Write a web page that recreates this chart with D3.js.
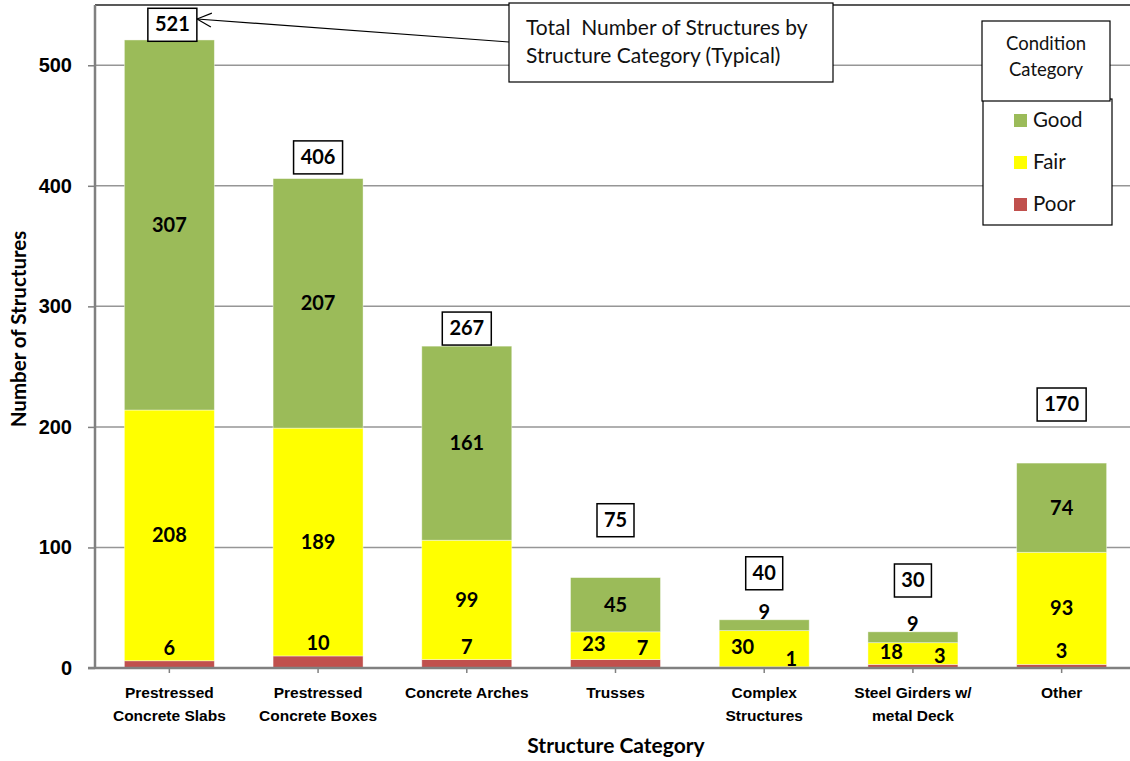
<!DOCTYPE html>
<html>
<head>
<meta charset="utf-8">
<script src="https://cdn.jsdelivr.net/npm/d3@7"></script>
<style>
  body { margin: 0; background: #fff; }
  svg { font-family: Lato, "Open Sans", sans-serif; }
</style>
</head>
<body>
<script>
// structure categories (two-line labels)
var categories = [
  ["Prestressed", "Concrete Slabs"],
  ["Prestressed", "Concrete Boxes"],
  ["Concrete Arches"],
  ["Trusses"],
  ["Complex", "Structures"],
  ["Steel Girders w/", "metal Deck"],
  ["Other"]
];

// counts per condition
var poor = [6, 10, 7, 7, 1, 3, 3];
var fair = [208, 189, 99, 23, 30, 18, 93];
var good = [307, 207, 161, 45, 9, 9, 74];
var totals = [521, 406, 267, 75, 40, 30, 170];

// where each total box sits, in axis units
var totalLabelAt = [534, 424, 282, 123, 79, 73, 219];

var yTicks = [0, 100, 200, 300, 400, 500];

var colors = { good: "#9BBB59", fair: "#FFFF00", poor: "#C0504D" };

var width = 1130, height = 761;
var plotLeft = 95, plotRight = 1136, plotTop = 5, plotBottom = 668;

var svg = d3.select("body").append("svg")
  .attr("width", width)
  .attr("height", height);

var x = d3.scaleBand()
  .domain(d3.range(categories.length))
  .range([plotLeft, plotRight])
  .paddingInner(0.395)
  .paddingOuter(0.1975);

var y = d3.scaleLinear().domain([0, 550]).range([plotBottom, plotTop]);

// gridlines
svg.append("g")
  .selectAll("line")
  .data(yTicks.slice(1))
  .enter().append("line")
  .attr("x1", plotLeft).attr("x2", width)
  .attr("y1", function(d) { return y(d); })
  .attr("y2", function(d) { return y(d); })
  .attr("stroke", "#969696")
  .attr("stroke-width", 1.5);

// top border of plot area
svg.append("line")
  .attr("x1", plotLeft).attr("x2", width)
  .attr("y1", plotTop).attr("y2", plotTop)
  .attr("stroke", "#222").attr("stroke-width", 1.5);

// stacked bars
var stacks = categories.map(function(c, i) {
  return [
    { key: "poor", y0: 0, y1: poor[i], v: poor[i] },
    { key: "fair", y0: poor[i], y1: poor[i] + fair[i], v: fair[i] },
    { key: "good", y0: poor[i] + fair[i], y1: poor[i] + fair[i] + good[i], v: good[i] }
  ];
});

var barG = svg.append("g");
stacks.forEach(function(segs, i) {
  barG.selectAll(null)
    .data(segs)
    .enter().append("rect")
    .attr("x", x(i))
    .attr("width", x.bandwidth())
    .attr("y", function(d) { return y(d.y1); })
    .attr("height", function(d) { return y(d.y0) - y(d.y1); })
    .attr("fill", function(d) { return colors[d.key]; })
    .attr("stroke", "rgba(255,255,255,0.5)")
    .attr("stroke-width", 0.8);
});

// axes
var yAxis = svg.append("g")
  .attr("transform", "translate(" + plotLeft + ",0)")
  .call(d3.axisLeft(y).tickValues(yTicks).tickSize(7).tickPadding(16));
yAxis.select(".domain").attr("stroke", "#808080").attr("stroke-width", 2.5)
  .attr("d", "M0," + plotTop + "V" + plotBottom);
yAxis.selectAll(".tick line").attr("stroke", "#808080").attr("stroke-width", 1.5);
yAxis.selectAll(".tick text")
  .attr("fill", "#000")
  .style("font-size", "20px")
  .style("font-weight", "bold");

var xAxis = svg.append("g")
  .attr("transform", "translate(0," + plotBottom + ")")
  .call(d3.axisBottom(x).tickSize(5).tickFormat(""));
xAxis.select(".domain").attr("stroke", "#808080").attr("stroke-width", 2.5)
  .attr("d", "M" + (plotLeft - 7) + ",0H" + width);
xAxis.selectAll(".tick line").attr("stroke", "#808080").attr("stroke-width", 1.5);

// category labels
xAxis.selectAll(".tick").each(function(i) {
  var t = d3.select(this).append("text")
    .attr("fill", "#000")
    .attr("text-anchor", "middle")
    .style("font-size", "15.5px")
    .style("font-weight", "bold");
  categories[i].forEach(function(line, k) {
    t.append("tspan").attr("x", 0).attr("y", 30 + k * 23).text(line);
  });
});

// axis titles
svg.append("text")
  .attr("x", 616).attr("y", 753)
  .attr("text-anchor", "middle")
  .style("font-size", "21px").style("font-weight", "bold")
  .text("Structure Category");

svg.append("text")
  .attr("transform", "translate(26," + 329 + ") rotate(-90)")
  .attr("text-anchor", "middle")
  .style("font-size", "20.5px").style("font-weight", "bold")
  .text("Number of Structures");

// value labels in segments
var labelG = svg.append("g")
  .style("font-size", "20px").style("font-weight", "bold")
  .attr("text-anchor", "middle");

function segLabel(cx, val, v, dy) {
  labelG.append("text")
    .attr("x", cx).attr("y", y(val) + (dy || 0))
    .attr("dy", "0.35em")
    .text(v);
}

stacks.forEach(function(segs, i) {
  var cx = x(i) + x.bandwidth() / 2;
  var bw = x.bandwidth();
  var p = segs[0], f = segs[1], g = segs[2];
  if (f.v > 60) {
    // tall bars: everything centred
    segLabel(cx, p.y1, p.v, -13);
    segLabel(cx, (f.y0 + f.y1) / 2, f.v);
    segLabel(cx, (g.y0 + g.y1) / 2, g.v);
  } else {
    // short bars: fair on the left, poor on the right
    segLabel(cx - bw * 0.24, (f.y0 + f.y1) / 2, f.v, -2);
    segLabel(cx + bw * 0.3, p.y1, p.v, i === 3 ? -12 : -8);
    if (g.v > 20) segLabel(cx, (g.y0 + g.y1) / 2, g.v);
    else segLabel(cx, g.y1, g.v, -8);
  }
});

// total boxes
var totalG = svg.append("g");
totals.forEach(function(t, i) {
  var cx = x(i) + x.bandwidth() / 2 + (i === 0 ? 3 : 0);
  var cy = y(totalLabelAt[i]);
  var w = String(t).length * 12 + 13;
  totalG.append("rect")
    .attr("x", cx - w / 2).attr("y", cy - 16)
    .attr("width", w).attr("height", 33)
    .attr("fill", "#fff").attr("stroke", "#000").attr("stroke-width", 1.5);
  totalG.append("text")
    .attr("x", cx).attr("y", cy).attr("dy", "0.36em")
    .attr("text-anchor", "middle")
    .style("font-size", "20px").style("font-weight", "bold")
    .text(t);
});

// callout with arrow to first total box
var ax0 = 509, ay0 = 42, ax1 = 197, ay1 = 19;
svg.append("line")
  .attr("x1", ax0).attr("y1", ay0).attr("x2", ax1).attr("y2", ay1)
  .attr("stroke", "#000").attr("stroke-width", 1.2);
var ang = Math.atan2(ay0 - ay1, ax0 - ax1);
[0.45, -0.45].forEach(function(a) {
  svg.append("line")
    .attr("x1", ax1).attr("y1", ay1)
    .attr("x2", ax1 + 16 * Math.cos(ang + a))
    .attr("y2", ay1 + 16 * Math.sin(ang + a))
    .attr("stroke", "#000").attr("stroke-width", 1.2);
});

svg.append("rect")
  .attr("x", 509).attr("y", 3).attr("width", 324).attr("height", 79)
  .attr("fill", "#fff").attr("stroke", "#000").attr("stroke-width", 1.2);
var note = svg.append("text")
  .style("font-size", "21px").attr("fill", "#111");
note.append("tspan").attr("x", 526).attr("y", 35).attr("xml:space", "preserve").text("Total  Number of Structures by");
note.append("tspan").attr("x", 526).attr("y", 63).text("Structure Category (Typical)");

// legend
svg.append("rect")
  .attr("x", 983).attr("y", 99).attr("width", 129).attr("height", 126)
  .attr("fill", "#fff").attr("stroke", "#000").attr("stroke-width", 1.2);
svg.append("rect")
  .attr("x", 982).attr("y", 21).attr("width", 128).attr("height", 80)
  .attr("fill", "#fff").attr("stroke", "#000").attr("stroke-width", 1.2);
var lt = svg.append("text")
  .attr("text-anchor", "middle")
  .style("font-size", "18.5px").attr("fill", "#111");
lt.append("tspan").attr("x", 1046).attr("y", 50).text("Condition");
lt.append("tspan").attr("x", 1046).attr("y", 76).text("Category");

var legendItems = [["Good", colors.good], ["Fair", colors.fair], ["Poor", colors.poor]];
legendItems.forEach(function(d, k) {
  var ly = 120 + k * 42;
  svg.append("rect")
    .attr("x", 1014).attr("y", ly - 6).attr("width", 13).attr("height", 13)
    .attr("fill", d[1]);
  svg.append("text")
    .attr("x", 1033).attr("y", ly).attr("dy", "0.35em")
    .style("font-size", "20.5px").attr("fill", "#111")
    .text(d[0]);
});
</script>
</body>
</html>
